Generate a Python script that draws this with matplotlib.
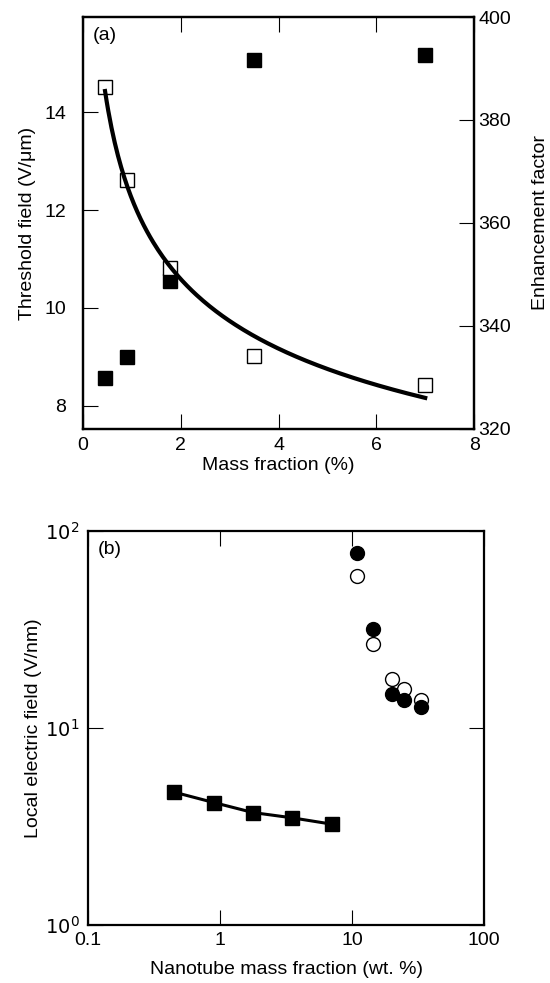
import numpy as np
import matplotlib
matplotlib.use('Agg')
import matplotlib.pyplot as plt

plt.rcParams['font.family'] = ['Liberation Sans', 'DejaVu Sans']

# panel (a)
mass = [0.45, 0.9, 1.78, 3.5, 7.0]
threshold = [14.51, 12.61, 10.82, 9.02, 8.43]   # open squares, left axis
enhance = [329.9, 334.0, 348.7, 391.7, 392.6]  # filled squares, right axis

# panel (b)
local_sq = [4.72, 4.18, 3.72, 3.50, 3.25]
circ_x = [11.0, 14.4, 20.0, 24.9, 33.2]
circ_filled = [77.6, 31.8, 14.8, 13.8, 12.7]
circ_open = [59.3, 26.8, 17.7, 15.7, 13.9]

fs = 14
fst = 14
tick_kw = dict(direction='in', length=11, width=0.8, labelsize=fst)

fig = plt.figure(figsize=(5.5, 9.83), dpi=100)

# ---- (a)
ax = fig.add_axes([0.151, 0.5636, 0.711, 0.4191])
ax2 = ax.twinx()

# power law fit through the open squares
b, lna = np.polyfit(np.log(mass), np.log(threshold), 1)
xf = np.linspace(mass[0], mass[-1], 200)
yf = np.exp(lna) * xf ** b

ax.plot(mass, threshold, 's', ms=10, mfc='white', mec='black', mew=1.0, zorder=2)
ax2.plot(mass, enhance, 's', ms=10, mfc='black', mec='black', zorder=3)
ax.set_zorder(ax2.get_zorder() + 1)
ax.patch.set_visible(False)
ax.plot(xf, yf, '-', color='black', lw=3, zorder=4)

ax.set_xlim(0, 8)
ax.set_ylim(7.53, 15.94)
ax2.set_ylim(320, 400)
ax.set_xticks([0, 2, 4, 6, 8])
ax.set_yticks([8, 10, 12, 14])
ax2.set_yticks([320, 340, 360, 380, 400])
ax.tick_params(axis='x', top=True, pad=6, **tick_kw)
ax.tick_params(axis='y', pad=12, **tick_kw)
ax2.tick_params(axis='y', pad=3, **tick_kw)
for a in (ax, ax2):
    for s in a.spines.values():
        s.set_linewidth(1.6)

ax.set_xlabel('Mass fraction (%)', fontsize=fs, labelpad=2)
ax.set_ylabel('Threshold field (V/\u03bcm)', fontsize=fs, labelpad=6)
ax2.set_ylabel('Enhancement factor', fontsize=fs, labelpad=15)
ax.text(0.025, 0.975, '(a)', transform=ax.transAxes, fontsize=fs, va='top', ha='left')

# ---- (b)
bx = fig.add_axes([0.16, 0.059, 0.72, 0.401])
bx.plot(mass, local_sq, 's-', color='black', ms=10, lw=2.2)
bx.plot(circ_x, circ_open, 'o', ms=10, mfc='white', mec='black', mew=1.0)
bx.plot(circ_x, circ_filled, 'o', ms=10, mfc='black', mec='black')
bx.set_xscale('log')
bx.set_yscale('log')
bx.set_xlim(0.1, 100)
bx.set_ylim(1, 100)
bx.set_xticks([0.1, 1, 10, 100])
bx.set_xticklabels(['0.1', '1', '10', '100'])
bx.set_yticks([1, 10, 100])
bx.set_yticklabels(['$10^0$', '$10^1$', '$10^2$'])
bx.minorticks_off()
bx.tick_params(axis='x', top=True, pad=5, **tick_kw)
bx.tick_params(axis='y', right=True, pad=6, **tick_kw)
for s in bx.spines.values():
    s.set_linewidth(1.6)
bx.set_xlabel('Nanotube mass fraction (wt. %)', fontsize=fs, labelpad=9)
bx.set_ylabel('Local electric field (V/nm)', fontsize=fs, labelpad=2)
bx.text(0.025, 0.975, '(b)', transform=bx.transAxes, fontsize=fs, va='top', ha='left')

fig.savefig('out.png', dpi=100)
